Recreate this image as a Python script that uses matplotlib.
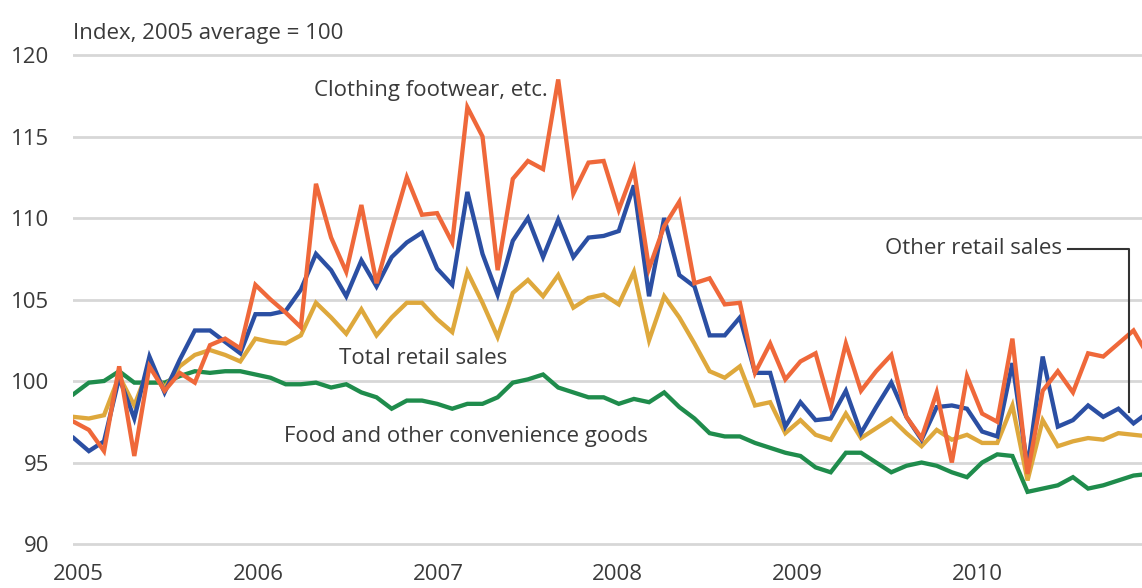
import numpy as np
import matplotlib
matplotlib.use("Agg")
import matplotlib.pyplot as plt

plt.rcParams['font.family'] = ['Open Sans', 'DejaVu Sans']

# monthly index values, Jan 2005 onwards (last point runs off the right edge)
clothing = [97.5, 97.0, 95.7, 100.9, 95.4, 100.9, 99.4, 100.5, 99.9, 102.2, 102.6, 102.0,
            105.9, 105.0, 104.2, 103.3, 112.1, 108.8, 106.7, 110.8, 106.0, 109.3, 112.5, 110.2,
            110.3, 108.5, 116.8, 115.0, 106.8, 112.4, 113.5, 113.0, 118.5, 111.5, 113.4, 113.5,
            110.5, 113.0, 106.9, 109.5, 111.0, 106.0, 106.3, 104.7, 104.8, 100.5, 102.3, 100.1,
            101.2, 101.7, 98.4, 102.3, 99.4, 100.6, 101.6, 97.8, 96.5, 99.3, 95.0, 100.3,
            98.0, 97.5, 102.6, 94.3, 99.4, 100.6, 99.3, 101.7, 101.5, 102.3, 103.1, 101.5]
other = [96.5, 95.7, 96.3, 100.2, 97.7, 101.5, 99.3, 101.3, 103.1, 103.1, 102.4, 101.7,
         104.1, 104.1, 104.3, 105.6, 107.8, 106.8, 105.2, 107.4, 105.8, 107.6, 108.5, 109.1,
         106.9, 105.9, 111.6, 107.8, 105.3, 108.6, 110.0, 107.6, 109.9, 107.6, 108.8, 108.9,
         109.2, 112.0, 105.2, 110.0, 106.5, 105.8, 102.8, 102.8, 103.9, 100.5, 100.5, 97.2,
         98.7, 97.6, 97.7, 99.4, 96.8, 98.4, 99.9, 97.8, 96.4, 98.4, 98.5, 98.3,
         96.9, 96.6, 101.1, 94.7, 101.5, 97.2, 97.6, 98.5, 97.8, 98.3, 97.4, 98.1]
total = [97.8, 97.7, 97.9, 100.3, 98.5, 100.9, 99.6, 100.9, 101.6, 101.9, 101.6, 101.2,
         102.6, 102.4, 102.3, 102.8, 104.8, 103.9, 102.9, 104.4, 102.8, 103.9, 104.8, 104.8,
         103.8, 103.0, 106.7, 104.8, 102.7, 105.4, 106.2, 105.2, 106.5, 104.5, 105.1, 105.3,
         104.7, 106.7, 102.5, 105.2, 103.9, 102.3, 100.6, 100.2, 100.9, 98.5, 98.7, 96.8,
         97.6, 96.7, 96.4, 98.0, 96.5, 97.1, 97.7, 96.8, 96.0, 97.0, 96.4, 96.7,
         96.2, 96.2, 98.5, 93.9, 97.6, 96.0, 96.3, 96.5, 96.4, 96.8, 96.7, 96.6]
food = [99.2, 99.9, 100.0, 100.6, 99.9, 99.9, 99.9, 100.3, 100.6, 100.5, 100.6, 100.6,
        100.4, 100.2, 99.8, 99.8, 99.9, 99.6, 99.8, 99.3, 99.0, 98.3, 98.8, 98.8,
        98.6, 98.3, 98.6, 98.6, 99.0, 99.9, 100.1, 100.4, 99.6, 99.3, 99.0, 99.0,
        98.6, 98.9, 98.7, 99.3, 98.4, 97.7, 96.8, 96.6, 96.6, 96.2, 95.9, 95.6,
        95.4, 94.7, 94.4, 95.6, 95.6, 95.0, 94.4, 94.8, 95.0, 94.8, 94.4, 94.1,
        95.0, 95.5, 95.4, 93.2, 93.4, 93.6, 94.1, 93.4, 93.6, 93.9, 94.2, 94.3]
years = ['2005', '2006', '2007', '2008', '2009', '2010']
y_ticks = [90, 95, 100, 105, 110, 115, 120]

c_orange = '#EF683A'
c_blue = '#2B4FA3'
c_yellow = '#DEA83C'
c_green = '#1F8C4C'
c_text = '#3A3A3A'
fs = 16

fig = plt.figure(figsize=(11.42, 5.88), dpi=100)
ax = fig.add_axes([0.0639, 0.0471, 0.9361, 0.9009])

months = np.arange(len(food))
ax.plot(months, food, color=c_green, lw=3.1, solid_joinstyle='miter', zorder=3)
ax.plot(months, total, color=c_yellow, lw=3.1, solid_joinstyle='miter', zorder=4)
ax.plot(months, other, color=c_blue, lw=3.1, solid_joinstyle='miter', zorder=5)
ax.plot(months, clothing, color=c_orange, lw=3.1, solid_joinstyle='miter', zorder=6)

ax.set_xlim(-0.05, 70.56)
ax.set_ylim(89, 121.5)

for v in y_ticks:
    ax.axhline(v, color='#D7D7D7', lw=2, zorder=1)

ax.set_yticks(y_ticks)
ax.set_yticklabels([str(v) for v in y_ticks])
ax.set_xticks(0.33 + 11.87 * np.arange(len(years)))
ax.set_xticklabels(years)
ax.tick_params(axis='y', length=0, pad=17, labelsize=fs, labelcolor=c_text)
ax.tick_params(axis='x', length=0, pad=3, labelsize=fs, labelcolor=c_text)
for s in ax.spines.values():
    s.set_visible(False)

fig.text(73 / 1142, 1 - 33 / 588, 'Index, 2005 average = 100', fontsize=fs,
         color=c_text, ha='left', va='center')

ax.text(23.6, 117.8, 'Clothing footwear, etc.', fontsize=fs, color=c_text, ha='center', va='center')
ax.text(23.1, 101.4, 'Total retail sales', fontsize=fs, color=c_text, ha='center', va='center')
ax.text(25.9, 96.6, 'Food and other convenience goods', fontsize=fs, color=c_text,
        ha='center', va='center')
ax.text(65.3, 108.1, 'Other retail sales', fontsize=fs, color=c_text, ha='right', va='center')
ax.plot([65.7, 69.7, 69.7], [108.1, 108.1, 98.1], color='#333333', lw=1.5, zorder=7)

fig.savefig('out.png', dpi=100)
